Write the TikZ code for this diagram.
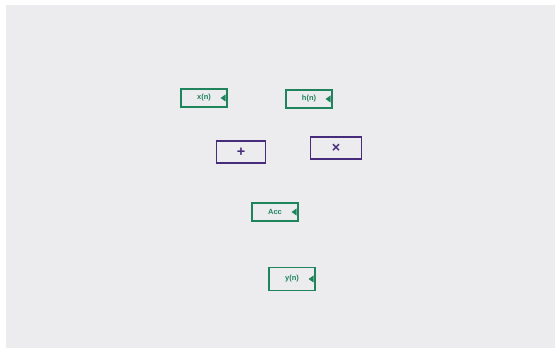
\documentclass[tikz,border=0pt]{standalone}
\usepackage{fontspec}
\setmainfont{Liberation Sans}
\usetikzlibrary{positioning,calc}
\definecolor{inkgreen}{RGB}{31,132,92}
\definecolor{inkpurple}{RGB}{72,44,124}
\definecolor{paper}{RGB}{236,236,238}

\begin{document}
\begin{tikzpicture}[x=1pt, y=-1pt,
        port/.style={rectangle, draw=inkgreen, line width=1.7pt,
                     minimum width=46pt, minimum height=18pt,
                     text=inkgreen, font=\fontsize{7.5}{8}\selectfont\bfseries,
                     inner sep=0pt,
                     path picture={\fill[inkgreen]
                         ([xshift=-1.5pt]path picture bounding box.east)
                         -- ++(0,-3.5pt) -- ++(-5pt,3.5pt) -- ++(5pt,3.5pt) -- cycle;}},
        op/.style={rectangle, draw=inkpurple, line width=1.7pt,
                   minimum width=49pt, minimum height=22pt,
                   text=inkpurple, font=\Large\bfseries, inner sep=0pt}]

        % sheet of paper
        \fill[white] (0,0) rectangle (555,350);
        \fill[paper] (6,5) rectangle (555,348);
        \useasboundingbox (0,0) rectangle (555,350);

        % inputs
        \node[port] (xn) at (204,98) {x(n)\hspace{14pt}};
        \node[port] (hn) at (309,99) {h(n)\hspace{14pt}};

        % operators
        \node[op] (add) at (241,152) {+};
        \node[op, minimum width=51pt] (mul) at (336,148) {×};

        % accumulator
        \node[port] (acc) at (275,212) {Acc\hspace{14pt}};

        % output
        \node[port, minimum height=23pt] (yn) at (292,279) {y(n)\hspace{14pt}};

    \end{tikzpicture}
\end{document}
